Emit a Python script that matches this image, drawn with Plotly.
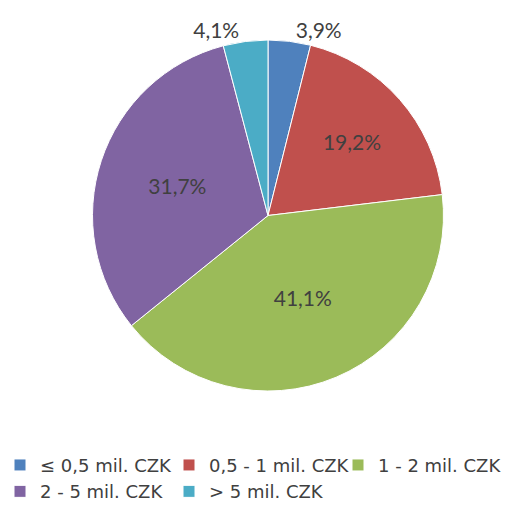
import plotly.graph_objects as go

categories = ["≤ 0,5 mil. CZK", "0,5 - 1 mil. CZK", "1 - 2 mil. CZK", "2 - 5 mil. CZK", "> 5 mil. CZK"]
values = [3.9, 19.2, 41.1, 31.7, 4.1]
colors = ["#4F81BD", "#C0504D", "#9BBB59", "#8064A2", "#4BACC6"]
label_text = [f"{v:.1f}%".replace(".", ",") for v in values]
positions = ["outside", "inside", "inside", "inside", "outside"]

label_font = dict(family="Lato", size=21, color="#404040")

fig = go.Figure(go.Pie(
    labels=categories,
    values=values,
    text=label_text,
    textinfo="text",
    textposition=positions,
    insidetextorientation="horizontal",
    sort=False,
    direction="clockwise",
    rotation=0,
    marker=dict(colors=colors, line=dict(color="white", width=1)),
    textfont=label_font,
    outsidetextfont=label_font,
    insidetextfont=label_font,
    domain=dict(x=[92/510, 444/510], y=[(510-391)/510, (510-40)/510]),
    showlegend=True,
    hoverinfo="label+percent",
))

fig.update_layout(
    width=510, height=510,
    margin=dict(l=0, r=0, t=0, b=0, autoexpand=False),
    paper_bgcolor="white",
    plot_bgcolor="white",
    font=dict(family="DejaVu Sans", size=18, color="#404040"),
    legend=dict(
        orientation="h",
        x=0.0, xanchor="left",
        y=0.124, yanchor="top",
        font=dict(family="DejaVu Sans", size=18, color="#404040"),
        itemwidth=30,
        entrywidth=124,
        entrywidthmode="pixels",
        tracegroupgap=0,
    ),
    uniformtext=dict(mode=False),
)

fig.write_html("out.html", config={"displayModeBar": False},
               post_script="document.body.style.margin='0';")
